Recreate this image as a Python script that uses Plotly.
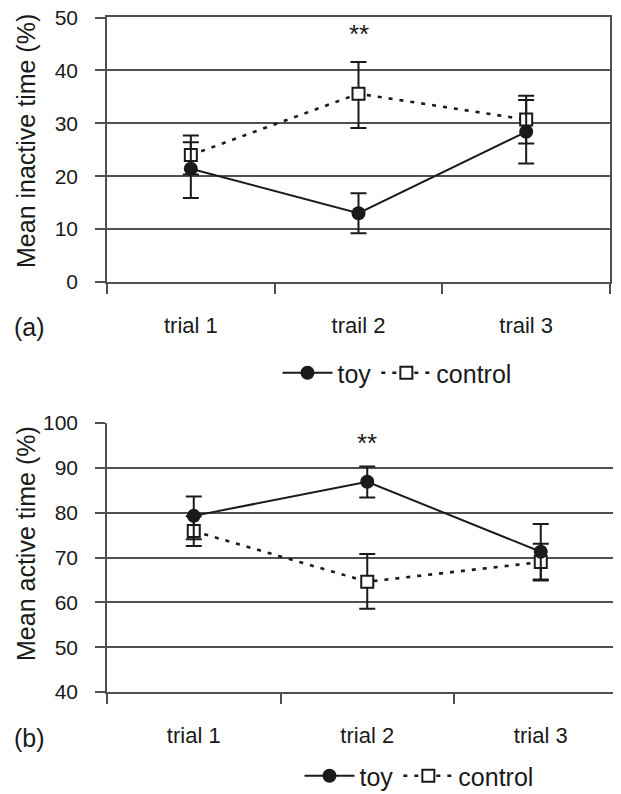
import plotly.graph_objects as go

# ---- data ----
cats_a = ["trial 1", "trail 2", "trail 3"]
cats_b = ["trial 1", "trial 2", "trial 3"]

inactive_toy = [21.4, 13.0, 28.4]
inactive_toy_err_up = [5.0, 3.8, 6.0]
inactive_toy_err_dn = [5.5, 3.8, 6.0]
inactive_ctrl = [24.0, 35.6, 30.7]
inactive_ctrl_err_up = [3.7, 6.0, 4.5]
inactive_ctrl_err_dn = [3.7, 6.5, 4.5]

active_toy = [79.3, 86.9, 71.3]
active_toy_err_up = [4.3, 3.4, 6.2]
active_toy_err_dn = [5.2, 3.5, 6.2]
active_ctrl = [75.9, 64.6, 69.0]
active_ctrl_err_up = [3.3, 6.2, 4.1]
active_ctrl_err_dn = [3.3, 6.0, 4.1]

FONT = "Liberation Sans, Arial, sans-serif"
INK = "#1a1a1a"
GRID = "#505050"

fig = go.Figure()

def add_pair(xa, ya, cats, toy, tu, td, ctrl, cu, cd, legend):
    fig.add_trace(go.Scatter(
        x=cats, y=ctrl, name="control", xaxis=xa, yaxis=ya, legend=legend,
        mode="lines+markers",
        line=dict(color=INK, width=2.6, dash="4px,7px"),
        marker=dict(symbol="square", size=12, color="white", line=dict(color=INK, width=2)),
        error_y=dict(type="data", array=cu, arrayminus=cd, color=INK, thickness=2, width=8),
    ))
    fig.add_trace(go.Scatter(
        x=cats, y=toy, name="toy", xaxis=xa, yaxis=ya, legend=legend,
        mode="lines+markers",
        line=dict(color=INK, width=2),
        marker=dict(symbol="circle", size=14, color=INK),
        error_y=dict(type="data", array=tu, arrayminus=td, color=INK, thickness=2, width=8),
    ))

add_pair("x", "y", cats_a, inactive_toy, inactive_toy_err_up, inactive_toy_err_dn,
         inactive_ctrl, inactive_ctrl_err_up, inactive_ctrl_err_dn, "legend")
add_pair("x2", "y2", cats_b, active_toy, active_toy_err_up, active_toy_err_dn,
         active_ctrl, active_ctrl_err_up, active_ctrl_err_dn, "legend2")

# page body has an 8px margin, so the figure is sized/positioned to compensate
OFF = 8
W, H = 613, 786

def px(v):
    return (v - OFF) / W

def py(v):
    return 1 - (v - OFF) / H

xcommon = dict(type="category", tickson="boundaries", ticks="outside", ticklen=10,
               tickwidth=1.5, tickcolor=GRID, showline=True, linecolor=GRID, linewidth=1.5,
               showgrid=False, tickfont=dict(family=FONT, size=22, color=INK),
               ticklabelstandoff=23, zeroline=False, automargin=False)
ycommon = dict(ticks="outside", ticklen=10, tickwidth=1.5, tickcolor=GRID,
               showline=True, linecolor=GRID, linewidth=1.5,
               showgrid=True, gridcolor=GRID, gridwidth=1.5, zeroline=False,
               tickfont=dict(family=FONT, size=21, color=INK), ticklabelstandoff=13,
               ticklabeloverflow="allow", automargin=False)

legend_common = dict(orientation="h", xanchor="center", yanchor="middle",
                     xref="container", yref="container",
                     font=dict(family=FONT, size=25, color=INK), bgcolor="rgba(0,0,0,0)",
                     traceorder="reversed", itemwidth=50)

def ann(text, x, y, size, angle=0):
    return dict(text=text, x=px(x), y=py(y), xref="paper", yref="paper",
                xanchor="center", yanchor="middle", textangle=angle, showarrow=False,
                font=dict(family=FONT, size=size, color=INK))

fig.update_layout(
    width=W, height=H, margin=dict(l=0, r=0, t=0, b=0, autoexpand=False),
    paper_bgcolor="white", plot_bgcolor="white",
    font=dict(family=FONT, color=INK),
    xaxis=dict(xcommon, domain=[px(107), px(610)], range=[-0.5, 2.5], anchor="y",
               mirror=True),
    yaxis=dict(ycommon, domain=[py(282), py(17)], range=[0, 50.1], tickmode="array",
               tickvals=[0, 10, 20, 30, 40, 50], anchor="x", mirror=True),
    xaxis2=dict(xcommon, domain=[px(107), 1.0], range=[-0.5, 2.4625], anchor="y2"),
    yaxis2=dict(ycommon, domain=[py(692), py(423)], range=[40, 100.02], tickmode="array",
                tickvals=[40, 50, 60, 70, 80, 90, 100], anchor="x2"),
    legend=dict(legend_common, x=px(397), y=py(373)),
    legend2=dict(legend_common, x=px(419), y=py(776)),
    annotations=[
        dict(text="**", x=1, y=46.9, xref="x", yref="y", showarrow=False,
             xanchor="center", yanchor="middle",
             font=dict(family=FONT, size=26, color=INK)),
        dict(text="**", x=1, y=95.6, xref="x2", yref="y2", showarrow=False,
             xanchor="center", yanchor="middle",
             font=dict(family=FONT, size=26, color=INK)),
        ann("Mean inactive time (%)", 26, 141, 25, -90),
        ann("Mean active time (%)", 26, 544, 25, -90),
        ann("(a)", 30, 327, 25),
        ann("(b)", 30, 738, 25),
    ],
)

fig.write_html("out.html")
